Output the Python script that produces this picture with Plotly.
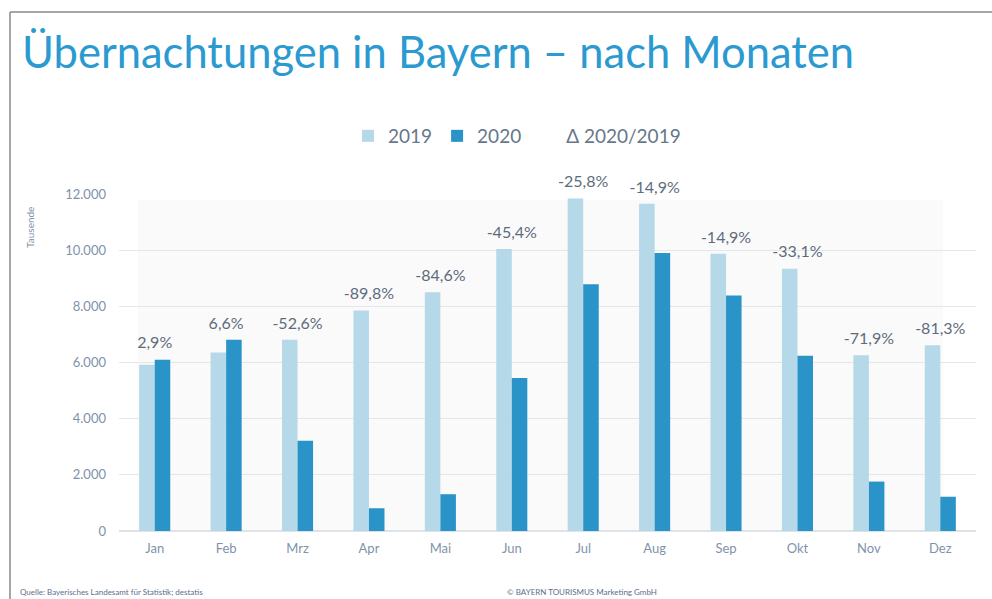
import plotly.graph_objects as go

months = ["Jan", "Feb", "Mrz", "Apr", "Mai", "Jun", "Jul", "Aug", "Sep", "Okt", "Nov", "Dez"]
v2019 = [5920, 6360, 6810, 7850, 8500, 10040, 11840, 11650, 9870, 9340, 6260, 6610]
v2020 = [6100, 6810, 3210, 810, 1310, 5450, 8790, 9900, 8390, 6240, 1760, 1220]
delta_labels = ["2,9%", "6,6%", "-52,6%", "-89,8%", "-84,6%", "-45,4%",
                "-25,8%", "-14,9%", "-14,9%", "-33,1%", "-71,9%", "-81,3%"]
y_ticks = [0, 2000, 4000, 6000, 8000, 10000, 12000]

W, H = 992, 599
L, R, T, B = 119, 16, 194, 68
pw, ph = W - L - R, H - T - B

def px(x):
    return (x - L) / pw

def py(y):
    return (H - B - y) / ph

FONT = "Lato"
C19 = "#b5d9e8"
C20 = "#2a93c7"

fig = go.Figure()
fig.add_trace(go.Bar(x=months, y=v2019, name="2019", marker=dict(color=C19, line_width=0)))
fig.add_trace(go.Bar(x=months, y=v2020, name="2020", marker=dict(color=C20, line_width=0)))
fig.add_trace(go.Scatter(x=[None], y=[None], mode="markers", name="Δ 2020/2019",
                         marker=dict(color="rgba(0,0,0,0)", size=1)))
fig.add_trace(go.Scatter(x=months, y=[max(a, b) for a, b in zip(v2019, v2020)],
                         mode="markers+text", text=delta_labels, textposition="top center",
                         marker=dict(color="rgba(0,0,0,0)", size=10),
                         textfont=dict(family=FONT, size=16, color="#5d6c7c"),
                         showlegend=False, cliponaxis=False, hoverinfo="skip"))

fig.update_layout(
    width=W, height=H,
    margin=dict(l=L, r=R, t=T, b=B, pad=0),
    paper_bgcolor="white", plot_bgcolor="rgba(0,0,0,0)",
    separators=",.",
    barmode="group", bargap=0.565, bargroupgap=0,
    font=dict(family=FONT, color="#7f93ab"),
    showlegend=True,
    legend=dict(orientation="h", x=px(517), y=py(136), xanchor="center", yanchor="middle",
                font=dict(family=FONT, size=19, color="#66778a"), itemwidth=30,
                bgcolor="rgba(0,0,0,0)"),
    xaxis=dict(range=[-0.5, len(months) - 0.5], showgrid=False, showline=False, ticks="",
               tickfont=dict(size=13, color="#7f93ab"), ticklabelstandoff=8),
    yaxis=dict(range=[0, 12000], tickvals=y_ticks, tickformat=",d", showgrid=True,
               gridcolor="#e4e6ea", gridwidth=1, zeroline=True, zerolinecolor="#dfe2e6",
               showline=False, ticks="", tickfont=dict(size=13, color="#8092aa"),
               ticklabelstandoff=12),
    shapes=[
        dict(type="rect", xref="paper", yref="paper", x0=px(138), x1=px(943), y0=0, y1=py(200),
             fillcolor="#fafafa", line_width=0, layer="below"),
        dict(type="line", xref="paper", yref="paper", x0=px(10), x1=px(10), y0=py(12), y1=py(640),
             line=dict(color="#8a8a8a", width=1.5)),
        dict(type="line", xref="paper", yref="paper", x0=px(10), x1=px(1010), y0=py(12), y1=py(12),
             line=dict(color="#8a8a8a", width=1.5)),
    ],
    annotations=[
        dict(text="Übernachtungen in Bayern – nach Monaten", xref="paper", yref="paper",
             x=px(20), y=py(51), xanchor="left", yanchor="middle", showarrow=False,
             font=dict(family=FONT, size=43.5, color="#2a9ad0")),
        dict(text="Tausende", xref="paper", yref="paper", x=px(30), y=py(228),
             xanchor="center", yanchor="middle", textangle=-90, showarrow=False,
             font=dict(family=FONT, size=10, color="#8092aa")),
        dict(text="Quelle: Bayerisches Landesamt für Statistik; destatis", xref="paper", yref="paper",
             x=px(18), y=py(592), xanchor="left", yanchor="middle", showarrow=False,
             font=dict(family=FONT, size=8, color="#5b6f8a")),
        dict(text="© BAYERN TOURISMUS Marketing GmbH", xref="paper", yref="paper",
             x=px(505), y=py(592), xanchor="left", yanchor="middle", showarrow=False,
             font=dict(family=FONT, size=8, color="#5b6f8a")),
    ],
)

fig.write_html("out.html", config={"displayModeBar": False},
               post_script="document.body.style.margin='0';document.body.style.overflow='hidden';")
